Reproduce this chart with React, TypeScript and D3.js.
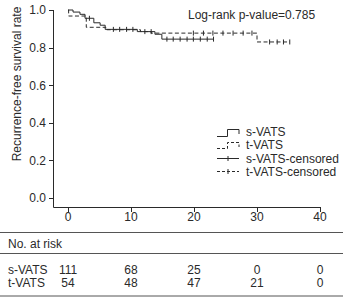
import * as d3 from "d3";

// Kaplan-Meier step data: event times (months) and survival after each drop
const sTimes = [0.8, 1.9, 2.7, 4.1, 5.1, 5.9, 11.0, 13.8, 14.9];
const sSurv = [0.989, 0.977, 0.956, 0.932, 0.919, 0.897, 0.885, 0.871, 0.845];
const sEnd = 23.1;
const sCensor = [3.4, 7.2, 8.2, 9.3, 10.3, 12.2, 13.2, 15.7, 16.7, 17.8, 18.9, 19.9, 21.0, 22.1, 23.1];

const tTimes = [0.1, 2.9, 6.0, 11.5, 13.2, 30.0];
const tSurv = [0.968, 0.908, 0.895, 0.885, 0.877, 0.83];
const tEnd = 35.2;
const tCensor = [19.9, 21.5, 23.0, 24.6, 26.2, 27.8, 29.2, 32.0, 33.2, 34.2, 35.2];

const xTicks = [0, 10, 20, 30, 40];
const yTicks = [0, 0.2, 0.4, 0.6, 0.8, 1.0];

const groups = ["s-VATS", "t-VATS"];
const atRiskS = [111, 68, 25, 0, 0];
const atRiskT = [54, 48, 47, 21, 0];

const legendLabels = ["s-VATS", "t-VATS", "s-VATS-censored", "t-VATS-censored"];

const W = 343;
const H = 297;
const FONT = "'Liberation Sans', Arial, sans-serif";
const INK = "#2a2a2a";
const DASH = "4,2.5";

const x = d3.scaleLinear().domain([0, 40]).range([68, 320]);
const y = d3.scaleLinear().domain([0, 1]).range([198, 10]);

const axisX0 = 53;
const axisY0 = 207;

function stepPath(times: number[], surv: number[], end: number) {
  const pts: [number, number][] = [[0, 1]];
  times.forEach((t, i) => pts.push([t, surv[i]]));
  pts.push([end, surv[surv.length - 1]]);
  return (
    d3
      .line<[number, number]>()
      .x((d) => x(d[0]))
      .y((d) => y(d[1]))
      .curve(d3.curveStepAfter)(pts) || ""
  );
}

function survAt(times: number[], surv: number[], t: number) {
  let v = 1;
  times.forEach((tt, i) => {
    if (tt <= t) v = surv[i];
  });
  return v;
}

function Censors({ times, surv, marks }: { times: number[]; surv: number[]; marks: number[] }) {
  return (
    <g stroke={INK} strokeWidth={1}>
      {marks.map((m, i) => {
        const cx = x(m);
        const cy = y(survAt(times, surv, m));
        return <line key={i} x1={cx} x2={cx} y1={cy - 2.5} y2={cy + 2.5} />;
      })}
    </g>
  );
}

export default function App() {
  const legendX = 217;
  const legendRows = [131.5, 145, 158.5, 172];
  const tableRows = [atRiskS, atRiskT];
  const tableY = [274, 287];

  return (
    <svg
      width={W}
      height={H}
      style={{ position: "absolute", left: 0, top: 0, background: "#fff" }}
      fontFamily={FONT}
      fontSize={12}
    >
      {/* axes */}
      <g stroke={INK} strokeWidth={1} fill="none">
        <path d={`M${axisX0 + 0.5},${y(1)}V${axisY0 + 0.5}H${x(40)}`} />
        {yTicks.map((v) => (
          <line key={v} x1={axisX0 - 4} x2={axisX0} y1={Math.round(y(v)) + 0.5} y2={Math.round(y(v)) + 0.5} />
        ))}
        {xTicks.map((v) => (
          <line key={v} x1={Math.round(x(v)) + 0.5} x2={Math.round(x(v)) + 0.5} y1={axisY0} y2={axisY0 + 5} />
        ))}
      </g>
      <g fill={INK}>
        {yTicks.map((v) => (
          <text key={v} x={axisX0 - 7} y={y(v) + 4.3} textAnchor="end">
            {d3.format(".1f")(v)}
          </text>
        ))}
        {xTicks.map((v) => (
          <text key={v} x={x(v)} y={221} textAnchor="middle">
            {v}
          </text>
        ))}
        <text transform={`translate(20.5,84) rotate(-90)`} textAnchor="middle">
          Recurrence-free survival rate
        </text>
        <text x={188} y={19}>
          Log-rank p-value=0.785
        </text>
      </g>

      {/* survival curves */}
      <path d={stepPath(sTimes, sSurv, sEnd)} fill="none" stroke={INK} strokeWidth={1} />
      <path
        d={stepPath(tTimes, tSurv, tEnd)}
        fill="none"
        stroke={INK}
        strokeWidth={1}
        strokeDasharray={DASH}
      />
      <Censors times={sTimes} surv={sSurv} marks={sCensor} />
      <Censors times={tTimes} surv={tSurv} marks={tCensor} />

      {/* legend */}
      <g fill="none" stroke={INK} strokeWidth={1}>
        <path d={`M${legendX},136.5H${legendX + 10.5}V129.5H${legendX + 22}V134`} />
        <path d={`M${legendX},148.5H${legendX + 10.5}V142.5H${legendX + 22}V147`} strokeDasharray="3,2" />
        <line x1={legendX} x2={legendX + 22} y1={158.5} y2={158.5} />
        <line x1={legendX + 11} x2={legendX + 11} y1={156} y2={161} />
        <line x1={legendX} x2={legendX + 22} y1={171.5} y2={171.5} strokeDasharray="3,2" />
        <line x1={legendX + 11} x2={legendX + 11} y1={169} y2={174} />
      </g>
      <g fill={INK}>
        {legendLabels.map((l, i) => (
          <text key={l} x={246} y={legendRows[i] + 4.3}>
            {l}
          </text>
        ))}
      </g>

      {/* number at risk table */}
      <g stroke="#555" strokeWidth={1}>
        <line x1={0} x2={W} y1={232.5} y2={232.5} />
        <line x1={0} x2={W} y1={253.5} y2={253.5} />
        <line x1={0} x2={W} y1={296} y2={296} />
      </g>
      <g fill={INK}>
        <text x={8} y={248}>
          No. at risk
        </text>
        {groups.map((g, r) => (
          <g key={g}>
            <text x={8} y={tableY[r]}>
              {g}
            </text>
            {tableRows[r].map((n, i) => (
              <text key={i} x={x(xTicks[i])} y={tableY[r]} textAnchor="middle">
                {n}
              </text>
            ))}
          </g>
        ))}
      </g>
    </svg>
  );
}
